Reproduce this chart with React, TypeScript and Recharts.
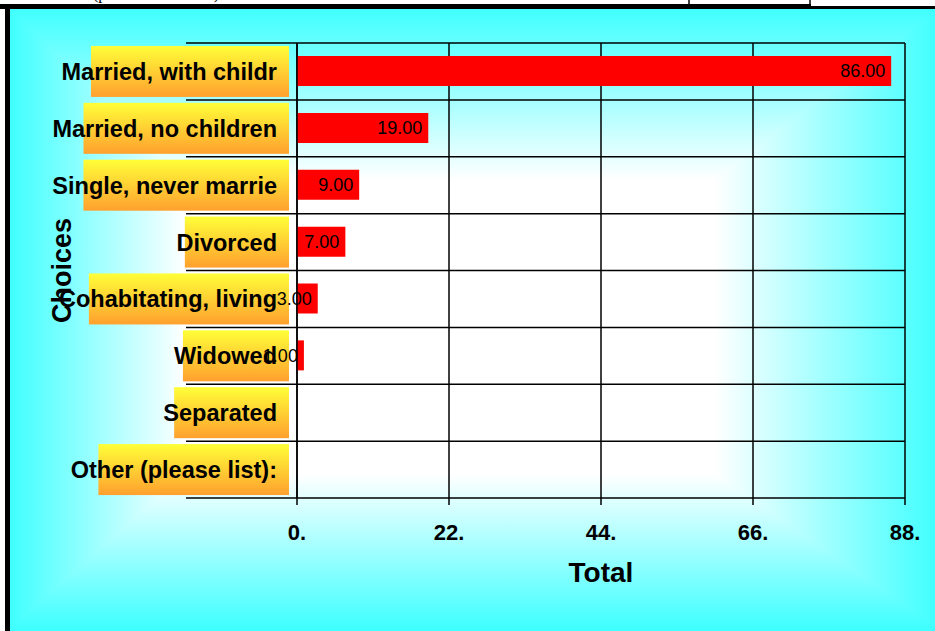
import { BarChart, Bar, XAxis, YAxis, CartesianGrid, LabelList, Label } from 'recharts'

const choices = [
  'Married, with childr',
  'Married, no children',
  'Single, never marrie',
  'Divorced',
  'Cohabitating, living',
  'Widowed',
  'Separated',
  'Other (please list):',
]
const totals = [86, 19, 9, 7, 3, 1, 0, 0]
const totalTicks = [0, 22, 44, 66, 88]

const data = choices.map((name, i) => ({ name, total: totals[i] }))

const W = 935
const H = 631
const FONT = "'Liberation Sans', Arial, Helvetica, sans-serif"
const CYAN = '#40ffff'
const LABEL_PX = 23.5

// measure label text so the yellow box can follow its length
let ctx: CanvasRenderingContext2D | null = null
function textWidth(s: string, font: string) {
  if (!ctx) ctx = document.createElement('canvas').getContext('2d')
  if (!ctx) return s.length * 12
  ctx.font = font
  return ctx.measureText(s).width
}

function ChoiceTick({ x, y, payload, index }: any) {
  const band = 455 / choices.length
  const w = textWidth(payload.value, `bold ${LABEL_PX}px ${FONT}`)
  const boxW = w * 0.817 + 22
  const last = index === choices.length - 1
  return (
    <g>
      <rect x={x - 8 - boxW} y={y - 25.5} width={boxW} height={51} fill="url(#labelBox)" />
      <line x1={x - 111} x2={x} y1={y - band / 2} y2={y - band / 2} stroke="#000" strokeWidth={1.5} />
      {last && <line x1={x - 111} x2={x} y1={y + band / 2} y2={y + band / 2} stroke="#000" strokeWidth={1.5} />}
      <text x={x - 20} y={y} dy="0.36em" textAnchor="end" fontFamily={FONT} fontWeight="bold" fontSize={LABEL_PX} fill="#000">
        {payload.value}
      </text>
    </g>
  )
}

function TotalTick({ x, y, payload }: any) {
  return (
    <text x={x} y={y} dy={35} textAnchor="middle" fontFamily={FONT} fontWeight="bold" fontSize={22} fill="#000">
      {`${payload.value}.`}
    </text>
  )
}

function Backdrop() {
  // rectangular "from centre" fill: white core fading to cyan edges
  const X1 = 10, Y1 = 9, X2 = 938, Y2 = 628
  const x1 = 185, x2 = 715, y1 = 180, y2 = 474
  return (
    <svg width={W} height={H} style={{ position: 'absolute', left: 0, top: 0 }}>
      <defs>
        <linearGradient id="gTop" gradientUnits="userSpaceOnUse" x1={0} y1={Y1} x2={0} y2={y1}>
          <stop offset="0" stopColor={CYAN} />
          <stop offset="1" stopColor="#fff" />
        </linearGradient>
        <linearGradient id="gBottom" gradientUnits="userSpaceOnUse" x1={0} y1={y2} x2={0} y2={Y2}>
          <stop offset="0" stopColor="#fff" />
          <stop offset="1" stopColor={CYAN} />
        </linearGradient>
        <linearGradient id="gLeft" gradientUnits="userSpaceOnUse" x1={X1} y1={0} x2={x1} y2={0}>
          <stop offset="0" stopColor={CYAN} />
          <stop offset="1" stopColor="#fff" />
        </linearGradient>
        <linearGradient id="gRight" gradientUnits="userSpaceOnUse" x1={x2} y1={0} x2={X2} y2={0}>
          <stop offset="0" stopColor="#fff" />
          <stop offset="1" stopColor={CYAN} />
        </linearGradient>
      </defs>
      <rect x={0} y={0} width={W} height={H} fill="#fff" />
      <g shapeRendering="crispEdges">
        <rect x={X1} y={Y1} width={W - X1} height={H - Y1} fill={CYAN} />
        <rect x={x1} y={y1} width={x2 - x1} height={y2 - y1} fill="#fff" />
        <polygon points={`${X1},${Y1} ${X2},${Y1} ${x2},${y1} ${x1},${y1}`} fill="url(#gTop)" />
        <polygon points={`${x1},${y2} ${x2},${y2} ${X2},${Y2} ${X1},${Y2}`} fill="url(#gBottom)" />
        <polygon points={`${X1},${Y1} ${x1},${y1} ${x1},${y2} ${X1},${Y2}`} fill="url(#gLeft)" />
        <polygon points={`${x2},${y1} ${X2},${Y1} ${X2},${Y2} ${x2},${y2}`} fill="url(#gRight)" />
      </g>
      {/* page frame bits around the chart */}
      <text x={93} y={-1} fontFamily="'Liberation Serif', serif" fontSize={16} fill="#000">(please choose one)</text>
      <rect x={0} y={4} width={811} height={5} fill="#000" />
      <rect x={811} y={6} width={124} height={3} fill="#000" />
      <rect x={5} y={4} width={5} height={H - 4} fill="#000" />
      <line x1={689} x2={689} y1={0} y2={5} stroke="#000" strokeWidth={1.5} />
      <line x1={810} x2={810} y1={0} y2={5} stroke="#000" strokeWidth={1.5} />
    </svg>
  )
}

export default function App() {
  return (
    <div style={{ position: 'absolute', left: 0, top: 0, width: W, height: H, overflow: 'hidden' }}>
      <Backdrop />
      <div style={{ position: 'absolute', left: 0, top: 0 }}>
        <BarChart width={W} height={H} data={data} layout="vertical" margin={{ top: 43, right: 30, bottom: 0, left: 0 }}>
          <defs>
            <linearGradient id="labelBox" x1="0" y1="0" x2="0" y2="1">
              <stop offset="0%" stopColor="#ffff38" />
              <stop offset="100%" stopColor="#ffa02e" />
            </linearGradient>
          </defs>
          <CartesianGrid
            stroke="#000"
            strokeWidth={1.5}
            horizontalCoordinatesGenerator={({ offset }: any) =>
              choices.map((_, i) => offset.top + (i * offset.height) / choices.length)
            }
          />
          <XAxis
            type="number"
            domain={[0, 88]}
            ticks={totalTicks}
            interval={0}
            height={133}
            tickSize={7}
            tickMargin={0}
            axisLine={{ stroke: '#000', strokeWidth: 1.5 }}
            tickLine={{ stroke: '#000', strokeWidth: 1.5 }}
            tick={<TotalTick />}
          >
            <Label
              content={({ viewBox }: any) => (
                <text x={viewBox.x + viewBox.width / 2} y={viewBox.y + 84} textAnchor="middle" fontFamily={FONT} fontWeight="bold" fontSize={28} fill="#000">
                  Total
                </text>
              )}
            />
          </XAxis>
          <YAxis
            type="category"
            dataKey="name"
            width={297}
            tickSize={0}
            tickMargin={0}
            interval={0}
            axisLine={{ stroke: '#000', strokeWidth: 1.5 }}
            tickLine={false}
            tick={<ChoiceTick />}
          >
            <Label
              content={({ viewBox }: any) => {
                const cx = viewBox.x + 61
                const cy = viewBox.y + viewBox.height / 2
                return (
                  <text x={cx} y={cy} dy="0.36em" transform={`rotate(-90, ${cx}, ${cy})`} textAnchor="middle" fontFamily={FONT} fontWeight="bold" fontSize={27} fill="#000">
                    Choices
                  </text>
                )
              }}
            />
          </YAxis>
          <Bar dataKey="total" fill="#ff0000" barSize={30} isAnimationActive={false}>
            <LabelList
              dataKey="total"
              position="insideRight"
              offset={6}
              formatter={(v: any) => (Number(v) > 0 ? Number(v).toFixed(2) : '')}
              fill="#000"
              fontSize={18}
              fontFamily={FONT}
            />
          </Bar>
        </BarChart>
      </div>
    </div>
  )
}
